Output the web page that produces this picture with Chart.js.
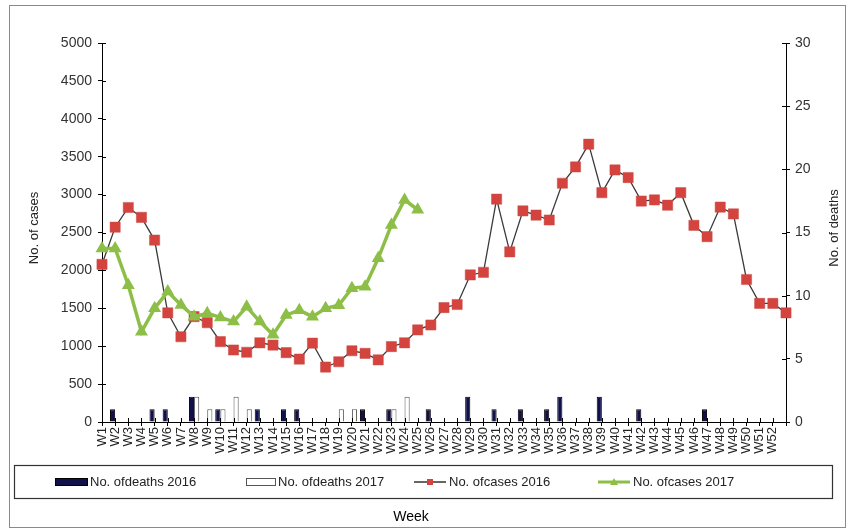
<!DOCTYPE html>
<html>
<head>
<meta charset="utf-8">
<script src="https://cdn.jsdelivr.net/npm/chart.js@4.4.0/dist/chart.umd.min.js"></script>
<style>
  html, body { margin: 0; padding: 0; background: #fff; }
  #wrap { width: 852px; height: 531px; }
</style>
</head>
<body>
<div id="wrap"><canvas id="myChart"></canvas></div>
<script>
const weeks = [
  'W1','W2','W3','W4','W5','W6','W7','W8','W9','W10',
  'W11','W12','W13','W14','W15','W16','W17','W18','W19','W20',
  'W21','W22','W23','W24','W25','W26','W27','W28','W29','W30',
  'W31','W32','W33','W34','W35','W36','W37','W38','W39','W40',
  'W41','W42','W43','W44','W45','W46','W47','W48','W49','W50',
  'W51','W52',''
];

const cases2016 = [
  2080, 2570, 2830, 2700, 2400, 1440, 1125, 1390, 1310, 1060,
  950, 920, 1045, 1015, 915, 830, 1040, 725, 795, 940,
  905, 820, 995, 1045, 1215, 1280, 1510, 1550, 1940, 1975,
  2940, 2245, 2785, 2730, 2665, 3150, 3365, 3665, 3025, 3325,
  3225, 2915, 2930, 2860, 3025, 2595, 2445, 2835, 2745, 1880,
  1565, 1565, 1440
];

const cases2017 = [
  2290, 2290, 1805, 1190, 1500, 1720, 1545, 1390, 1435, 1380,
  1325, 1520, 1325, 1150, 1410, 1475, 1390, 1500, 1540, 1765,
  1785, 2160, 2600, 2930, 2800
];

const deaths2016 = [
  0, 1, 0, 0, 1, 1, 0, 2, 0, 1,
  0, 0, 1, 0, 1, 1, 0, 0, 0, 0,
  1, 0, 1, 0, 0, 1, 0, 0, 2, 0,
  1, 0, 1, 0, 1, 2, 0, 0, 2, 0,
  0, 1, 0, 0, 0, 0, 1, 0, 0, 0,
  0, 0, 0
];

const deaths2017 = [
  0, 0, 0, 0, 0, 0, 0, 2, 1, 1,
  2, 1, 0, 0, 0, 0, 0, 0, 1, 1,
  0, 0, 1, 2, 0
];

const caseTicks = [0, 500, 1000, 1500, 2000, 2500, 3000, 3500, 4000, 4500, 5000];
const deathTicks = [0, 5, 10, 15, 20, 25, 30];

const FONT = "'Liberation Sans', Arial, sans-serif";
const RED = '#d5433e';
const GREEN = '#8dbf48';
const NAVY = '#10104a';

// tick marks that cross the axis lines, plus frame, axis titles and boxed legend
const extras = {
  id: 'extras',
  afterDraw(chart) {
    const ctx = chart.ctx, a = chart.chartArea;
    const x = chart.scales.x, y = chart.scales.y, y1 = chart.scales.y1;
    ctx.save();
    ctx.strokeStyle = '#000';
    ctx.lineWidth = 1;
    ctx.beginPath();
    x.ticks.forEach((t, i) => {
      const px = Math.round(x.getPixelForTick(i)) + 0.5;
      ctx.moveTo(px, a.bottom); ctx.lineTo(px, a.bottom - 4);
    });
    y.ticks.forEach((t, i) => {
      const py = Math.round(y.getPixelForTick(i)) + 0.5;
      ctx.moveTo(a.left, py); ctx.lineTo(a.left + 4, py);
    });
    y1.ticks.forEach((t, i) => {
      const py = Math.round(y1.getPixelForTick(i)) + 0.5;
      ctx.moveTo(a.right, py); ctx.lineTo(a.right - 4, py);
    });
    ctx.stroke();

    // outer frame
    ctx.strokeStyle = '#8a8a8a';
    ctx.strokeRect(9.5, 5.5, 836, 522);

    // axis titles
    ctx.fillStyle = '#222';
    ctx.font = '13px ' + FONT;
    ctx.textAlign = 'center';
    ctx.textBaseline = 'middle';
    ctx.save();
    ctx.translate(34, 228);
    ctx.rotate(-Math.PI / 2);
    ctx.fillText('No. of cases', 0, 0);
    ctx.restore();
    ctx.save();
    ctx.translate(834, 228);
    ctx.rotate(-Math.PI / 2);
    ctx.fillText('No. of deaths', 0, 0);
    ctx.restore();

    ctx.fillStyle = '#000';
    ctx.font = '14px ' + FONT;
    ctx.fillText('Week', 411, 517);

    // legend box
    ctx.strokeStyle = '#333';
    ctx.lineWidth = 1.2;
    ctx.strokeRect(14.5, 465.5, 818, 33);
    const ly = 482;
    ctx.lineWidth = 1;
    ctx.fillStyle = NAVY;
    ctx.fillRect(55, ly - 4, 33, 8);
    ctx.strokeStyle = '#000';
    ctx.strokeRect(55.5, ly - 3.5, 32, 7);
    ctx.fillStyle = '#fff';
    ctx.strokeStyle = '#555';
    ctx.strokeRect(246.5, ly - 3.5, 29, 7);
    ctx.strokeStyle = '#333';
    ctx.lineWidth = 1.5;
    ctx.beginPath(); ctx.moveTo(414, ly); ctx.lineTo(446, ly); ctx.stroke();
    ctx.fillStyle = RED;
    ctx.fillRect(427, ly - 3, 6, 6);
    ctx.strokeStyle = GREEN;
    ctx.lineWidth = 3;
    ctx.beginPath(); ctx.moveTo(598, ly); ctx.lineTo(630, ly); ctx.stroke();
    ctx.fillStyle = GREEN;
    ctx.beginPath(); ctx.moveTo(614, ly - 4); ctx.lineTo(618, ly + 3); ctx.lineTo(610, ly + 3); ctx.closePath(); ctx.fill();

    ctx.fillStyle = '#222';
    ctx.font = '13px ' + FONT;
    ctx.textAlign = 'left';
    ctx.fillText('No. ofdeaths 2016', 90, ly);
    ctx.fillText('No. ofdeaths 2017', 278, ly);
    ctx.fillText('No. ofcases 2016', 449, ly);
    ctx.fillText('No. ofcases 2017', 633, ly);
    ctx.restore();
  }
};

const data = {
  labels: weeks,
  datasets: [
    {
      type: 'line',
      label: 'No. ofcases 2017',
      data: cases2017,
      yAxisID: 'y',
      borderColor: GREEN,
      backgroundColor: GREEN,
      borderWidth: 3.5,
      pointStyle: 'triangle',
      pointRadius: 7.5,
      pointBorderWidth: 0,
      tension: 0,
      order: 0
    },
    {
      type: 'line',
      label: 'No. ofcases 2016',
      data: cases2016,
      yAxisID: 'y',
      borderColor: '#3a3a3a',
      backgroundColor: RED,
      borderWidth: 1.3,
      pointStyle: 'rect',
      pointRadius: 7.2,
      pointBackgroundColor: RED,
      pointBorderColor: '#c64a45',
      pointBorderWidth: 0.5,
      tension: 0,
      order: 1
    },
    {
      type: 'bar',
      label: 'No. ofdeaths 2016',
      data: deaths2016,
      yAxisID: 'y1',
      backgroundColor: NAVY,
      borderColor: '#000',
      borderWidth: 1,
      categoryPercentage: 0.78,
      barPercentage: 1.0,
      order: 2
    },
    {
      type: 'bar',
      label: 'No. ofdeaths 2017',
      data: deaths2017,
      yAxisID: 'y1',
      backgroundColor: '#fff',
      borderColor: '#555',
      borderWidth: 1,
      categoryPercentage: 0.78,
      barPercentage: 1.0,
      order: 2
    }
  ]
};

const config = {
  type: 'bar',
  data: data,
  plugins: [extras],
  options: {
    responsive: true,
    maintainAspectRatio: false,
    animation: false,
    layout: { padding: { top: 43, left: 0, right: 0, bottom: 71 } },
    plugins: {
      legend: { display: false },
      tooltip: { enabled: false }
    },
    scales: {
      x: {
        offset: false,
        grid: { offset: false, drawOnChartArea: false, color: '#000', tickLength: 4 },
        border: { color: '#000', width: 1 },
        ticks: {
          autoSkip: false,
          maxRotation: 90,
          minRotation: 90,
          padding: 1,
          color: '#222',
          font: { family: FONT, size: 13 }
        },
        afterFit(scale) { scale.height = 38; }
      },
      y: {
        position: 'left',
        min: caseTicks[0],
        max: caseTicks[caseTicks.length - 1],
        afterBuildTicks(scale) { scale.ticks = caseTicks.map(v => ({ value: v })); },
        grid: { drawOnChartArea: false, color: '#000', tickLength: 4 },
        border: { color: '#000', width: 1 },
        ticks: {
          padding: 6,
          color: '#333',
          font: { family: FONT, size: 14 },
          callback: v => String(v)
        },
        afterFit(scale) { scale.width = 102; }
      },
      y1: {
        position: 'right',
        min: deathTicks[0],
        max: deathTicks[deathTicks.length - 1],
        afterBuildTicks(scale) { scale.ticks = deathTicks.map(v => ({ value: v })); },
        grid: { drawOnChartArea: false, color: '#000', tickLength: 4 },
        border: { color: '#000', width: 1 },
        ticks: {
          padding: 5,
          color: '#333',
          font: { family: FONT, size: 14 },
          callback: v => String(v)
        },
        afterFit(scale) { scale.width = 66; }
      }
    }
  }
};

const myChart = new Chart(document.getElementById('myChart'), config);
</script>
</body>
</html>
